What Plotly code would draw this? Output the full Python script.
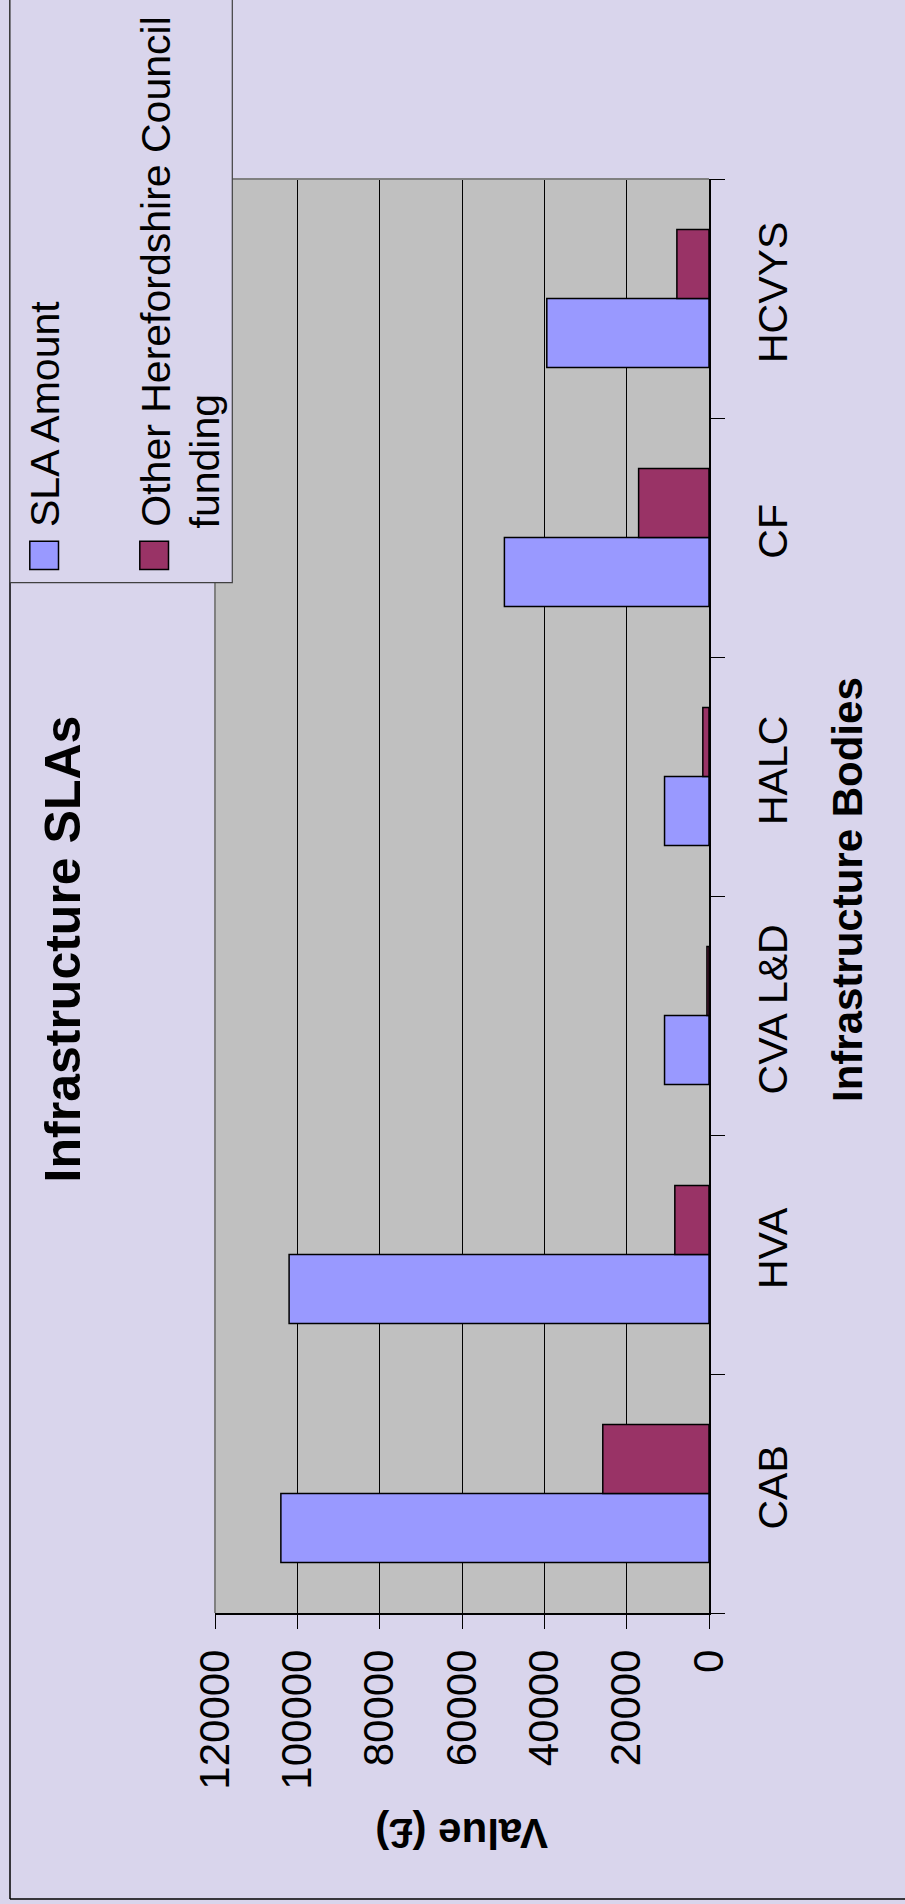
import plotly.graph_objects as go

# Infrastructure bodies and their funding (£)
bodies = ["CAB", "HVA", "CVA L&D", "HALC", "CF", "HCVYS"]
sla_amount = [104000, 102000, 10800, 10800, 49700, 39400]
other_funding = [25800, 8300, 500, 1500, 17100, 7800]
value_ticks = [0, 20000, 40000, 60000, 80000, 100000, 120000]

series_names = ["SLA Amount", "Other Herefordshire Council", "funding"]

BG = "#D9D5EC"
PLOT_BG = "#C0C0C0"
BLUE = "#9999FF"
MAROON = "#993366"
FONT = "Liberation Sans, Arial, sans-serif"

W, H = 905, 1904
L, R, T, B = 215, 709, 179, 1613


def fx(px):
    return (px - L) / (R - L)


def fy(py):
    return (B - py) / (B - T)


fig = go.Figure()
fig.add_trace(go.Bar(
    y=bodies, x=sla_amount, orientation="h", name=series_names[0],
    marker=dict(color=BLUE, line=dict(color="black", width=1.5)),
))
fig.add_trace(go.Bar(
    y=bodies, x=other_funding, orientation="h", name=series_names[1],
    marker=dict(color=MAROON, line=dict(color="black", width=1.5)),
))

fig.update_layout(
    width=W, height=H,
    margin=dict(l=L, r=W - R, t=T, b=H - B, pad=0),
    paper_bgcolor=BG, plot_bgcolor=PLOT_BG,
    barmode="group", bargap=0.423, bargroupgap=0,
    showlegend=False,
    font=dict(family=FONT, color="black", size=41),
    xaxis=dict(
        range=[120000, 0], tickvals=value_ticks, ticktext=[str(v) for v in value_ticks],
        tickangle=-90, ticks="outside", ticklen=14, tickcolor="black", tickwidth=1,
        ticklabelstandoff=4,
        showgrid=True, gridcolor="black", gridwidth=1, zeroline=False,
        showline=True, linecolor="black", linewidth=1.5,
        tickfont=dict(size=42), automargin=False,
    ),
    yaxis=dict(
        type="category", categoryorder="array", categoryarray=bodies,
        side="right", tickangle=-90, tickson="boundaries",
        ticks="outside", ticklen=14, tickcolor="black", tickwidth=1,
        ticklabelstandoff=27,
        showgrid=False, zeroline=False,
        showline=True, linecolor="black", linewidth=1.5,
        tickfont=dict(size=41), automargin=False,
    ),
)

shapes = [
    # plot-area edges on the left and top
    dict(type="line", xref="paper", yref="paper", x0=0, x1=0, y0=0, y1=1,
         line=dict(color="#808080", width=2), layer="above"),
    dict(type="line", xref="paper", yref="paper", x0=0, x1=1, y0=1, y1=1,
         line=dict(color="#808080", width=2), layer="above"),
    # chart-area border
    dict(type="line", xref="paper", yref="paper", x0=fx(10), x1=fx(10), y0=fy(1899), y1=fy(-5),
         line=dict(color="black", width=1.5), layer="above"),
    dict(type="line", xref="paper", yref="paper", x0=fx(10), x1=fx(910), y0=fy(1899), y1=fy(1899),
         line=dict(color="black", width=1.5), layer="above"),
    # legend box
    dict(type="rect", xref="paper", yref="paper", x0=fx(10), x1=fx(232.3), y0=fy(582.7), y1=fy(-5),
         fillcolor=BG, line=dict(color="#404040", width=1.2), layer="above"),
    # legend swatches
    dict(type="rect", xref="paper", yref="paper", x0=fx(29.8), x1=fx(58.5), y0=fy(569.5), y1=fy(541.2),
         fillcolor=BLUE, line=dict(color="black", width=1.5), layer="above"),
    dict(type="rect", xref="paper", yref="paper", x0=fx(139.8), x1=fx(168.5), y0=fy(569.5), y1=fy(541.2),
         fillcolor=MAROON, line=dict(color="black", width=1.5), layer="above"),
]
fig.update_layout(shapes=shapes)

annotations = [
    dict(text="<b>Infrastructure SLAs</b>", x=fx(63.4), y=fy(949), textangle=-90,
         font=dict(size=50)),
    dict(text="<b>Infrastructure Bodies</b>", x=fx(847), y=fy(890), textangle=-90,
         font=dict(size=42)),
    dict(text="<b>Value (£)</b>", x=fx(461.5), y=fy(1834), textangle=180,
         font=dict(size=42)),
    dict(text=series_names[0], x=fx(45), y=fy(529), yanchor="bottom", textangle=-90,
         font=dict(size=41)),
    dict(text=series_names[1], x=fx(155.7), y=fy(529), yanchor="bottom", textangle=-90,
         font=dict(size=41)),
    dict(text=series_names[2], x=fx(204), y=fy(531), yanchor="bottom", textangle=-90,
         font=dict(size=41)),
]
for a in annotations:
    a.setdefault("xref", "paper")
    a.setdefault("yref", "paper")
    a.setdefault("xanchor", "center")
    a.setdefault("yanchor", "middle")
    a["showarrow"] = False
fig.update_layout(annotations=annotations)

fig.write_html("out.html")
